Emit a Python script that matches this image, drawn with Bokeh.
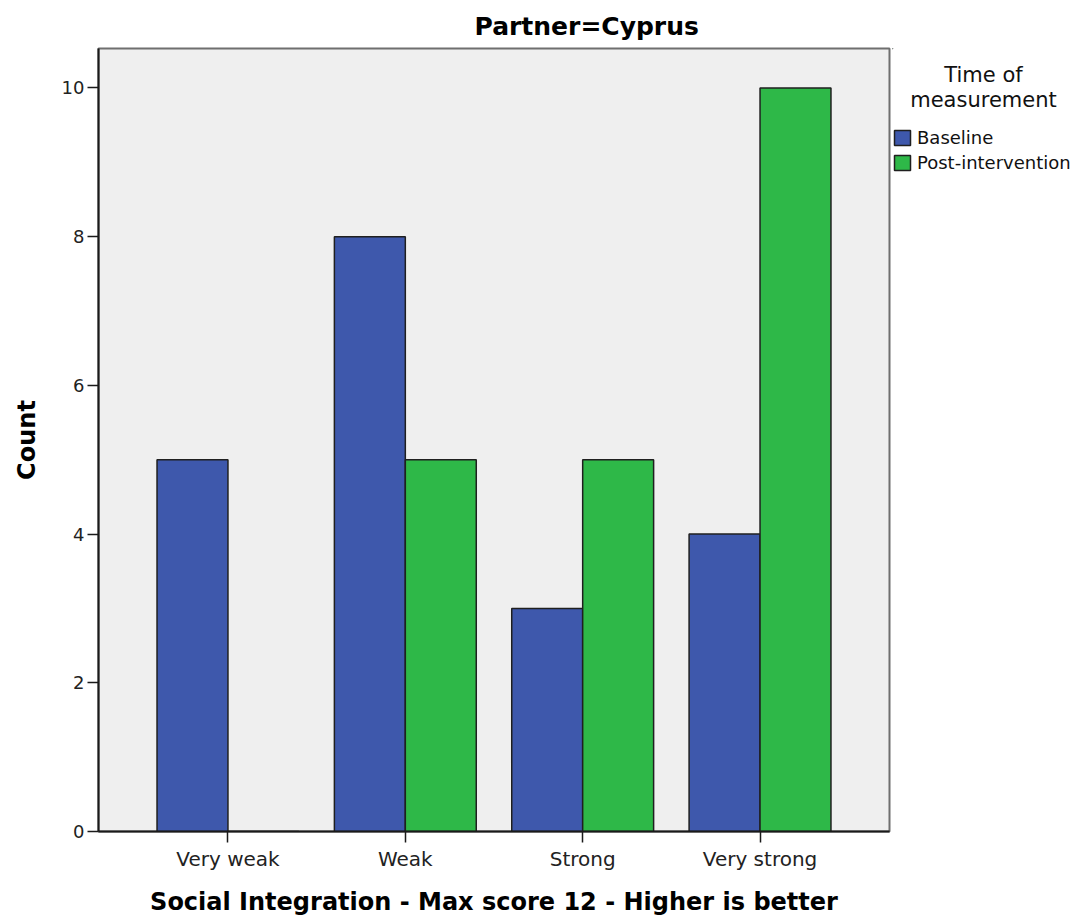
from bokeh.plotting import figure
from bokeh.models import ColumnDataSource, FactorRange, Range1d, Legend, LegendItem, Label, FixedTicker
from bokeh.layouts import row
from bokeh.transform import dodge
from bokeh.embed import file_html
from bokeh.resources import INLINE

categories = ["Very weak", "Weak", "Strong", "Very strong"]
baseline = [5, 8, 3, 4]
post_intervention = [0, 5, 5, 10]
y_ticks = [0, 2, 4, 6, 8, 10]
series_names = ["Baseline", "Post-intervention"]
legend_title = ["Time of", "measurement"]
chart_title = "Partner=Cyprus"

BLUE = "#3E58AC"
GREEN = "#2EB848"
EDGE = "#1f1f1f"
FONT = "DejaVu Sans"

src = ColumnDataSource(dict(cat=categories, base=baseline, post=post_intervention))

p = figure(
    width=892, height=921,
    x_range=FactorRange(factors=categories, range_padding=0.23, range_padding_units="absolute"),
    y_range=Range1d(0, 10.53),
    output_backend="svg", toolbar_location=None,
    min_border_left=98, min_border_right=3, min_border_top=48, min_border_bottom=90,
)
p.background_fill_color = "#EFEFEF"
p.border_fill_color = "white"
p.outline_line_color = "#6f6f6f"
p.outline_line_width = 2
p.xgrid.grid_line_color = None
p.ygrid.grid_line_color = None

p.title.text = chart_title
p.title.align = "left"
p.title.offset = 376
p.title.text_font = FONT
p.title.text_font_style = "bold"
p.title.text_font_size = "25px"
p.title.text_color = "black"
p.title.standoff = 16

p.vbar(x=dodge("cat", -0.2, range=p.x_range), top="base", width=0.4, source=src,
       fill_color=BLUE, line_color=EDGE, line_width=1.5)
p.vbar(x=dodge("cat", 0.2, range=p.x_range), top="post", width=0.4, source=src,
       fill_color=GREEN, line_color=EDGE, line_width=1.5)

for ax in (p.xaxis[0], p.yaxis[0]):
    ax.axis_line_color = "#1a1a1a"
    ax.axis_line_width = 2
    ax.major_tick_line_color = "#1a1a1a"
    ax.major_tick_line_width = 1.5
    ax.major_tick_out = 11
    ax.major_tick_in = 0
    ax.minor_tick_line_color = None
    ax.major_label_text_font = FONT
    ax.major_label_text_color = "#222222"
    ax.axis_label_text_font = FONT
    ax.axis_label_text_font_style = "bold"
    ax.axis_label_text_font_size = "24px"
    ax.axis_label_text_color = "black"

p.xaxis.axis_label = "Social Integration - Max score 12 - Higher is better"
p.xaxis.major_label_text_font_size = "20px"
p.xaxis.major_label_standoff = 4
p.xaxis.axis_label_standoff = 14

p.yaxis.axis_label = "Count"
p.yaxis.ticker = FixedTicker(ticks=y_ticks)
p.yaxis.major_label_text_font_size = "18px"
p.yaxis.major_label_standoff = 3
p.yaxis.axis_label_standoff = 18

# Legend panel: a second figure whose frame is aligned with the main frame
LW = 185
lg = figure(
    width=LW, height=921,
    x_range=Range1d(892, 892 + LW), y_range=Range1d(831, 48),
    output_backend="svg", toolbar_location=None,
    min_border=0, min_border_left=0, min_border_right=0, min_border_top=0, min_border_bottom=0,
)
lg.axis.visible = False
lg.grid.visible = False
lg.outline_line_color = None
lg.background_fill_color = "white"
lg.border_fill_color = "white"

# zero-size proxy bars (outside the visible range) that only supply legend swatches
proxy = ColumnDataSource(dict(x=[0], top=[0]))
d1 = lg.vbar(x="x", top="top", bottom=0, width=0, source=proxy,
             fill_color=BLUE, line_color=EDGE, line_width=1.5)
d2 = lg.vbar(x="x", top="top", bottom=0, width=0, source=proxy,
             fill_color=GREEN, line_color=EDGE, line_width=1.5)

legend = Legend(
    items=[LegendItem(label=series_names[0], renderers=[d1]),
           LegendItem(label=series_names[1], renderers=[d2])],
    location=(0, 658), margin=0, padding=0, spacing=4,
    glyph_width=20, glyph_height=19, label_standoff=5,
    label_text_font=FONT, label_text_font_size="18px", label_text_color="#111111",
    border_line_color=None, background_fill_alpha=0,
)
lg.add_layout(legend, "center")

lg.add_layout(Label(x=983, y=74, text=legend_title[0], text_align="center",
                    text_baseline="middle", text_font=FONT, text_font_size="21px",
                    text_color="#111111"))
lg.add_layout(Label(x=983, y=99, text=legend_title[1], text_align="center",
                    text_baseline="middle", text_font=FONT, text_font_size="21px",
                    text_color="#111111"))

layout = row(p, lg, spacing=0)
open("out.html", "w").write(file_html(layout, INLINE))
